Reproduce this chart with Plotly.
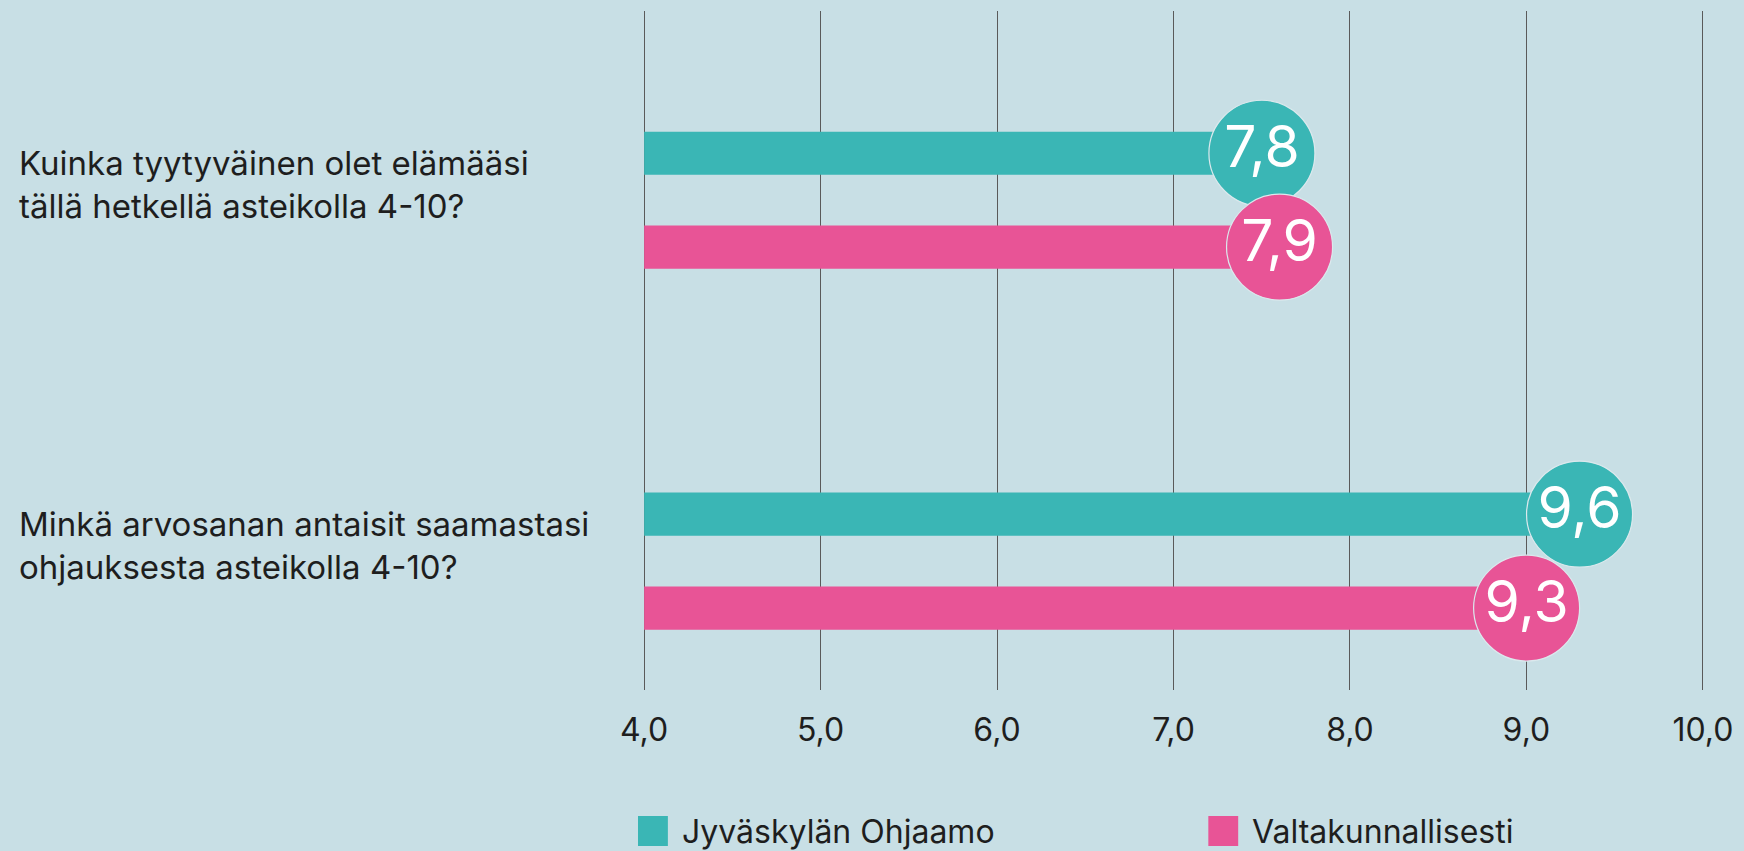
import plotly.graph_objects as go

# --- data -------------------------------------------------------------------
questions = [
    "Kuinka tyytyväinen olet elämääsi<br>tällä hetkellä asteikolla 4-10?",
    "Minkä arvosanan antaisit saamastasi<br>ohjauksesta asteikolla 4-10?",
]
series_names = ["Jyväskylän Ohjaamo", "Valtakunnallisesti"]
jyvaskyla = [7.8, 9.6]
national = [7.9, 9.3]
x_ticks = [4, 5, 6, 7, 8, 9, 10]

# --- style ------------------------------------------------------------------
BG = "#c8dfe5"
COLORS = ["#3ab6b5", "#e85496"]
FONT = "Inter"
TEXT = "#1e1e1e"

W, H = 1744, 851
MARGIN = dict(l=642, r=34, t=11, b=161)
X_MIN, X_MAX = 4, 10
X_PAD = 0.012  # keeps the 4,0 and 10,0 grid lines inside the plot
BUBBLE = 106  # marker diameter in px

plot_w = W - MARGIN["l"] - MARGIN["r"]
plot_h = H - MARGIN["t"] - MARGIN["b"]
# bubble's right edge sits on the value -> shift centre left by its radius
px_per_unit = plot_w / (X_MAX - X_MIN + 2 * X_PAD)
r_units = (BUBBLE / 2) / px_per_unit

fig = go.Figure()

for name, vals, color in zip(series_names, [jyvaskyla, national], COLORS):
    fig.add_trace(go.Bar(
        y=questions,
        x=[v - r_units - X_MIN for v in vals],
        base=X_MIN,
        orientation="h",
        name=name,
        marker=dict(color=color, line=dict(width=0)),
        showlegend=False,
        hoverinfo="skip",
    ))

for name, vals, color in zip(series_names, [jyvaskyla, national], COLORS):
    fig.add_trace(go.Scatter(
        y=questions,
        x=[v - r_units for v in vals],
        customdata=vals,
        orientation="h",
        mode="markers+text",
        name=name,
        marker=dict(size=BUBBLE, color=color, line=dict(color="#dbe9ed", width=1.2)),
        texttemplate="%{customdata:.1f}",
        textposition="middle center",
        textfont=dict(family=FONT, size=57, color="white"),
        cliponaxis=False,
        showlegend=False,
        hovertemplate=f"{name}: %{{customdata:.1f}}<extra></extra>",
    ))

# question labels, left aligned at the page edge
for q in questions:
    fig.add_annotation(
        x=(14 - MARGIN["l"]) / plot_w, xref="paper",
        y=q, yref="y", yshift=16,
        text=q, showarrow=False, xanchor="left", align="left",
        font=dict(family=FONT, size=33, color=TEXT),
    )

# legend drawn by hand (big square swatches)
legend_px = [638, 1211]
for name, color, lx in zip(series_names, COLORS, legend_px):
    fig.add_shape(
        type="rect", xref="paper", yref="paper",
        x0=(lx - MARGIN["l"]) / plot_w, x1=(lx + 30 - MARGIN["l"]) / plot_w,
        y0=-(846 - H + MARGIN["b"]) / plot_h, y1=-(816 - H + MARGIN["b"]) / plot_h,
        fillcolor=color, line=dict(width=0),
    )
    fig.add_annotation(
        x=(lx + 42 - MARGIN["l"]) / plot_w, xref="paper",
        y=-(831 - H + MARGIN["b"]) / plot_h, yref="paper",
        text=name, showarrow=False, xanchor="left", yanchor="middle",
        font=dict(family=FONT, size=32, color=TEXT),
    )

fig.update_layout(
    width=W, height=H,
    margin=MARGIN,
    paper_bgcolor=BG,
    plot_bgcolor=BG,
    separators=", ",
    barmode="group",
    bargap=0.48,
    bargroupgap=0.54,
    scattermode="group",
    scattergap=0.48,
    font=dict(family=FONT, color=TEXT),
    showlegend=False,
)
fig.update_xaxes(
    range=[X_MIN - X_PAD, X_MAX + X_PAD],
    tickvals=x_ticks,
    tickformat=".1f",
    showgrid=True, gridcolor="#5a5a5a", gridwidth=1,
    zeroline=False, showline=False,
    ticks="", ticklabelstandoff=18,
    tickfont=dict(family=FONT, size=32, color=TEXT),
)
fig.update_yaxes(
    range=[1.357, -0.524],
    showgrid=False, zeroline=False, showline=False,
    showticklabels=False,
)

fig.write_html(
    "out.html",
    config={"displayModeBar": False},
    post_script="document.body.style.margin='0';",
)
